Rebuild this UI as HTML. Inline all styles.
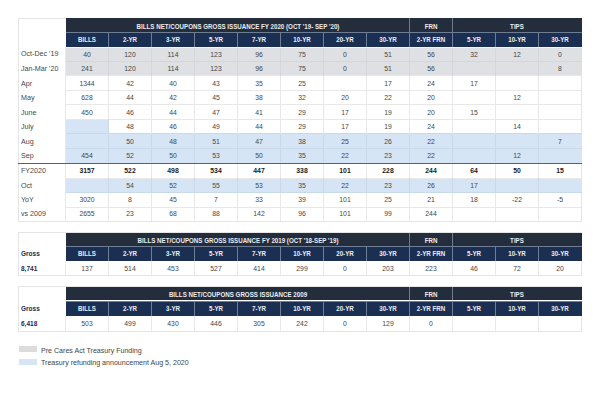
<!DOCTYPE html>
<html><head><meta charset="utf-8"><style>
html,body{margin:0;padding:0;background:#fff;width:600px;height:400px;overflow:hidden;}
body{position:relative;font-family:"Liberation Sans",sans-serif;}
.r{position:absolute;}
.t{position:absolute;white-space:nowrap;}
</style></head><body>
<div class="r" style="left:17.50px;top:17.50px;width:564.50px;height:204.40px;border:1px solid #e5e5e5;box-sizing:border-box;background:#fff"></div>
<div class="r" style="left:65.50px;top:18.00px;width:516.00px;height:13.50px;background:#232d3b;"></div>
<div class="r" style="left:65.50px;top:31.50px;width:516.00px;height:1.30px;background:#6e7d93;"></div>
<div class="r" style="left:65.50px;top:32.80px;width:516.00px;height:13.80px;background:#1b2f53;"></div>
<div class="r" style="left:408.90px;top:18.00px;width:1.20px;height:13.50px;background:#6e7d93;"></div>
<div class="r" style="left:451.90px;top:18.00px;width:1.20px;height:13.50px;background:#6e7d93;"></div>
<div class="r" style="left:107.90px;top:32.80px;width:1.20px;height:13.80px;background:#6e7d93;"></div>
<div class="r" style="left:150.90px;top:32.80px;width:1.20px;height:13.80px;background:#6e7d93;"></div>
<div class="r" style="left:193.90px;top:32.80px;width:1.20px;height:13.80px;background:#6e7d93;"></div>
<div class="r" style="left:236.90px;top:32.80px;width:1.20px;height:13.80px;background:#6e7d93;"></div>
<div class="r" style="left:279.90px;top:32.80px;width:1.20px;height:13.80px;background:#6e7d93;"></div>
<div class="r" style="left:322.90px;top:32.80px;width:1.20px;height:13.80px;background:#6e7d93;"></div>
<div class="r" style="left:365.90px;top:32.80px;width:1.20px;height:13.80px;background:#6e7d93;"></div>
<div class="r" style="left:408.90px;top:32.80px;width:1.20px;height:13.80px;background:#6e7d93;"></div>
<div class="r" style="left:451.90px;top:32.80px;width:1.20px;height:13.80px;background:#6e7d93;"></div>
<div class="r" style="left:494.90px;top:32.80px;width:1.20px;height:13.80px;background:#6e7d93;"></div>
<div class="r" style="left:537.90px;top:32.80px;width:1.20px;height:13.80px;background:#6e7d93;"></div>
<div class="r" style="left:17.50px;top:232.00px;width:564.50px;height:43.80px;border:1px solid #e5e5e5;box-sizing:border-box;background:#fff"></div>
<div class="r" style="left:108.00px;top:260.70px;width:1.00px;height:14.60px;background:#e8e8e8;"></div>
<div class="r" style="left:151.00px;top:260.70px;width:1.00px;height:14.60px;background:#e8e8e8;"></div>
<div class="r" style="left:194.00px;top:260.70px;width:1.00px;height:14.60px;background:#e8e8e8;"></div>
<div class="r" style="left:237.00px;top:260.70px;width:1.00px;height:14.60px;background:#e8e8e8;"></div>
<div class="r" style="left:280.00px;top:260.70px;width:1.00px;height:14.60px;background:#e8e8e8;"></div>
<div class="r" style="left:323.00px;top:260.70px;width:1.00px;height:14.60px;background:#e8e8e8;"></div>
<div class="r" style="left:366.00px;top:260.70px;width:1.00px;height:14.60px;background:#e8e8e8;"></div>
<div class="r" style="left:409.00px;top:260.70px;width:1.00px;height:14.60px;background:#e8e8e8;"></div>
<div class="r" style="left:452.00px;top:260.70px;width:1.00px;height:14.60px;background:#e8e8e8;"></div>
<div class="r" style="left:495.00px;top:260.70px;width:1.00px;height:14.60px;background:#e8e8e8;"></div>
<div class="r" style="left:538.00px;top:260.70px;width:1.00px;height:14.60px;background:#e8e8e8;"></div>
<div class="r" style="left:65.00px;top:260.70px;width:1.00px;height:14.60px;background:#e8e8e8;"></div>
<div class="r" style="left:65.50px;top:232.50px;width:516.00px;height:13.00px;background:#232d3b;"></div>
<div class="r" style="left:65.50px;top:245.50px;width:516.00px;height:1.50px;background:#6e7d93;"></div>
<div class="r" style="left:65.50px;top:247.00px;width:516.00px;height:13.70px;background:#1b2f53;"></div>
<div class="r" style="left:408.90px;top:232.50px;width:1.20px;height:13.00px;background:#6e7d93;"></div>
<div class="r" style="left:451.90px;top:232.50px;width:1.20px;height:13.00px;background:#6e7d93;"></div>
<div class="r" style="left:107.90px;top:247.00px;width:1.20px;height:13.70px;background:#6e7d93;"></div>
<div class="r" style="left:150.90px;top:247.00px;width:1.20px;height:13.70px;background:#6e7d93;"></div>
<div class="r" style="left:193.90px;top:247.00px;width:1.20px;height:13.70px;background:#6e7d93;"></div>
<div class="r" style="left:236.90px;top:247.00px;width:1.20px;height:13.70px;background:#6e7d93;"></div>
<div class="r" style="left:279.90px;top:247.00px;width:1.20px;height:13.70px;background:#6e7d93;"></div>
<div class="r" style="left:322.90px;top:247.00px;width:1.20px;height:13.70px;background:#6e7d93;"></div>
<div class="r" style="left:365.90px;top:247.00px;width:1.20px;height:13.70px;background:#6e7d93;"></div>
<div class="r" style="left:408.90px;top:247.00px;width:1.20px;height:13.70px;background:#6e7d93;"></div>
<div class="r" style="left:451.90px;top:247.00px;width:1.20px;height:13.70px;background:#6e7d93;"></div>
<div class="r" style="left:494.90px;top:247.00px;width:1.20px;height:13.70px;background:#6e7d93;"></div>
<div class="r" style="left:537.90px;top:247.00px;width:1.20px;height:13.70px;background:#6e7d93;"></div>
<div class="r" style="left:17.50px;top:286.30px;width:564.50px;height:45.50px;border:1px solid #e5e5e5;box-sizing:border-box;background:#fff"></div>
<div class="r" style="left:108.00px;top:316.00px;width:1.00px;height:15.30px;background:#e8e8e8;"></div>
<div class="r" style="left:151.00px;top:316.00px;width:1.00px;height:15.30px;background:#e8e8e8;"></div>
<div class="r" style="left:194.00px;top:316.00px;width:1.00px;height:15.30px;background:#e8e8e8;"></div>
<div class="r" style="left:237.00px;top:316.00px;width:1.00px;height:15.30px;background:#e8e8e8;"></div>
<div class="r" style="left:280.00px;top:316.00px;width:1.00px;height:15.30px;background:#e8e8e8;"></div>
<div class="r" style="left:323.00px;top:316.00px;width:1.00px;height:15.30px;background:#e8e8e8;"></div>
<div class="r" style="left:366.00px;top:316.00px;width:1.00px;height:15.30px;background:#e8e8e8;"></div>
<div class="r" style="left:409.00px;top:316.00px;width:1.00px;height:15.30px;background:#e8e8e8;"></div>
<div class="r" style="left:452.00px;top:316.00px;width:1.00px;height:15.30px;background:#e8e8e8;"></div>
<div class="r" style="left:495.00px;top:316.00px;width:1.00px;height:15.30px;background:#e8e8e8;"></div>
<div class="r" style="left:538.00px;top:316.00px;width:1.00px;height:15.30px;background:#e8e8e8;"></div>
<div class="r" style="left:65.00px;top:316.00px;width:1.00px;height:15.30px;background:#e8e8e8;"></div>
<div class="r" style="left:65.50px;top:286.80px;width:516.00px;height:13.70px;background:#232d3b;"></div>
<div class="r" style="left:65.50px;top:300.50px;width:516.00px;height:1.50px;background:#6e7d93;"></div>
<div class="r" style="left:65.50px;top:302.00px;width:516.00px;height:14.00px;background:#1b2f53;"></div>
<div class="r" style="left:408.90px;top:286.80px;width:1.20px;height:13.70px;background:#6e7d93;"></div>
<div class="r" style="left:451.90px;top:286.80px;width:1.20px;height:13.70px;background:#6e7d93;"></div>
<div class="r" style="left:107.90px;top:302.00px;width:1.20px;height:14.00px;background:#6e7d93;"></div>
<div class="r" style="left:150.90px;top:302.00px;width:1.20px;height:14.00px;background:#6e7d93;"></div>
<div class="r" style="left:193.90px;top:302.00px;width:1.20px;height:14.00px;background:#6e7d93;"></div>
<div class="r" style="left:236.90px;top:302.00px;width:1.20px;height:14.00px;background:#6e7d93;"></div>
<div class="r" style="left:279.90px;top:302.00px;width:1.20px;height:14.00px;background:#6e7d93;"></div>
<div class="r" style="left:322.90px;top:302.00px;width:1.20px;height:14.00px;background:#6e7d93;"></div>
<div class="r" style="left:365.90px;top:302.00px;width:1.20px;height:14.00px;background:#6e7d93;"></div>
<div class="r" style="left:408.90px;top:302.00px;width:1.20px;height:14.00px;background:#6e7d93;"></div>
<div class="r" style="left:451.90px;top:302.00px;width:1.20px;height:14.00px;background:#6e7d93;"></div>
<div class="r" style="left:494.90px;top:302.00px;width:1.20px;height:14.00px;background:#6e7d93;"></div>
<div class="r" style="left:537.90px;top:302.00px;width:1.20px;height:14.00px;background:#6e7d93;"></div>
<div class="r" style="left:18.70px;top:346.00px;width:18.30px;height:6.30px;background:#dcdcdc;"></div>
<div class="r" style="left:18.70px;top:359.30px;width:18.30px;height:6.00px;background:#d6e6f6;"></div>
<div class="r" style="left:65.50px;top:46.60px;width:516.00px;height:14.55px;background:#dee0e3;"></div>
<div class="r" style="left:65.50px;top:61.15px;width:516.00px;height:14.55px;background:#dee0e3;"></div>
<div class="r" style="left:65.50px;top:119.35px;width:43.00px;height:14.55px;background:#d5e5f5;"></div>
<div class="r" style="left:65.50px;top:133.90px;width:516.00px;height:14.55px;background:#d5e5f5;"></div>
<div class="r" style="left:65.50px;top:148.45px;width:516.00px;height:14.55px;background:#d5e5f5;"></div>
<div class="r" style="left:65.50px;top:178.00px;width:516.00px;height:14.60px;background:#d5e5f5;"></div>
<div class="r" style="left:65.50px;top:60.65px;width:516.00px;height:1.00px;background:#d3d6da;"></div>
<div class="r" style="left:108.00px;top:46.60px;width:1.00px;height:14.55px;background:#d3d6da;"></div>
<div class="r" style="left:151.00px;top:46.60px;width:1.00px;height:14.55px;background:#d3d6da;"></div>
<div class="r" style="left:194.00px;top:46.60px;width:1.00px;height:14.55px;background:#d3d6da;"></div>
<div class="r" style="left:237.00px;top:46.60px;width:1.00px;height:14.55px;background:#d3d6da;"></div>
<div class="r" style="left:280.00px;top:46.60px;width:1.00px;height:14.55px;background:#d3d6da;"></div>
<div class="r" style="left:323.00px;top:46.60px;width:1.00px;height:14.55px;background:#d3d6da;"></div>
<div class="r" style="left:366.00px;top:46.60px;width:1.00px;height:14.55px;background:#d3d6da;"></div>
<div class="r" style="left:409.00px;top:46.60px;width:1.00px;height:14.55px;background:#d3d6da;"></div>
<div class="r" style="left:452.00px;top:46.60px;width:1.00px;height:14.55px;background:#d3d6da;"></div>
<div class="r" style="left:495.00px;top:46.60px;width:1.00px;height:14.55px;background:#d3d6da;"></div>
<div class="r" style="left:538.00px;top:46.60px;width:1.00px;height:14.55px;background:#d3d6da;"></div>
<div class="r" style="left:65.50px;top:75.20px;width:516.00px;height:1.00px;background:#e8e8e8;"></div>
<div class="r" style="left:108.00px;top:61.15px;width:1.00px;height:14.55px;background:#d3d6da;"></div>
<div class="r" style="left:151.00px;top:61.15px;width:1.00px;height:14.55px;background:#d3d6da;"></div>
<div class="r" style="left:194.00px;top:61.15px;width:1.00px;height:14.55px;background:#d3d6da;"></div>
<div class="r" style="left:237.00px;top:61.15px;width:1.00px;height:14.55px;background:#d3d6da;"></div>
<div class="r" style="left:280.00px;top:61.15px;width:1.00px;height:14.55px;background:#d3d6da;"></div>
<div class="r" style="left:323.00px;top:61.15px;width:1.00px;height:14.55px;background:#d3d6da;"></div>
<div class="r" style="left:366.00px;top:61.15px;width:1.00px;height:14.55px;background:#d3d6da;"></div>
<div class="r" style="left:409.00px;top:61.15px;width:1.00px;height:14.55px;background:#d3d6da;"></div>
<div class="r" style="left:452.00px;top:61.15px;width:1.00px;height:14.55px;background:#d3d6da;"></div>
<div class="r" style="left:495.00px;top:61.15px;width:1.00px;height:14.55px;background:#d3d6da;"></div>
<div class="r" style="left:538.00px;top:61.15px;width:1.00px;height:14.55px;background:#d3d6da;"></div>
<div class="r" style="left:65.50px;top:89.75px;width:516.00px;height:1.00px;background:#e8e8e8;"></div>
<div class="r" style="left:108.00px;top:75.70px;width:1.00px;height:14.55px;background:#e8e8e8;"></div>
<div class="r" style="left:151.00px;top:75.70px;width:1.00px;height:14.55px;background:#e8e8e8;"></div>
<div class="r" style="left:194.00px;top:75.70px;width:1.00px;height:14.55px;background:#e8e8e8;"></div>
<div class="r" style="left:237.00px;top:75.70px;width:1.00px;height:14.55px;background:#e8e8e8;"></div>
<div class="r" style="left:280.00px;top:75.70px;width:1.00px;height:14.55px;background:#e8e8e8;"></div>
<div class="r" style="left:323.00px;top:75.70px;width:1.00px;height:14.55px;background:#e8e8e8;"></div>
<div class="r" style="left:366.00px;top:75.70px;width:1.00px;height:14.55px;background:#e8e8e8;"></div>
<div class="r" style="left:409.00px;top:75.70px;width:1.00px;height:14.55px;background:#e8e8e8;"></div>
<div class="r" style="left:452.00px;top:75.70px;width:1.00px;height:14.55px;background:#e8e8e8;"></div>
<div class="r" style="left:495.00px;top:75.70px;width:1.00px;height:14.55px;background:#e8e8e8;"></div>
<div class="r" style="left:538.00px;top:75.70px;width:1.00px;height:14.55px;background:#e8e8e8;"></div>
<div class="r" style="left:65.50px;top:104.30px;width:516.00px;height:1.00px;background:#e8e8e8;"></div>
<div class="r" style="left:108.00px;top:90.25px;width:1.00px;height:14.55px;background:#e8e8e8;"></div>
<div class="r" style="left:151.00px;top:90.25px;width:1.00px;height:14.55px;background:#e8e8e8;"></div>
<div class="r" style="left:194.00px;top:90.25px;width:1.00px;height:14.55px;background:#e8e8e8;"></div>
<div class="r" style="left:237.00px;top:90.25px;width:1.00px;height:14.55px;background:#e8e8e8;"></div>
<div class="r" style="left:280.00px;top:90.25px;width:1.00px;height:14.55px;background:#e8e8e8;"></div>
<div class="r" style="left:323.00px;top:90.25px;width:1.00px;height:14.55px;background:#e8e8e8;"></div>
<div class="r" style="left:366.00px;top:90.25px;width:1.00px;height:14.55px;background:#e8e8e8;"></div>
<div class="r" style="left:409.00px;top:90.25px;width:1.00px;height:14.55px;background:#e8e8e8;"></div>
<div class="r" style="left:452.00px;top:90.25px;width:1.00px;height:14.55px;background:#e8e8e8;"></div>
<div class="r" style="left:495.00px;top:90.25px;width:1.00px;height:14.55px;background:#e8e8e8;"></div>
<div class="r" style="left:538.00px;top:90.25px;width:1.00px;height:14.55px;background:#e8e8e8;"></div>
<div class="r" style="left:65.50px;top:118.85px;width:516.00px;height:1.00px;background:#e8e8e8;"></div>
<div class="r" style="left:108.00px;top:104.80px;width:1.00px;height:14.55px;background:#e8e8e8;"></div>
<div class="r" style="left:151.00px;top:104.80px;width:1.00px;height:14.55px;background:#e8e8e8;"></div>
<div class="r" style="left:194.00px;top:104.80px;width:1.00px;height:14.55px;background:#e8e8e8;"></div>
<div class="r" style="left:237.00px;top:104.80px;width:1.00px;height:14.55px;background:#e8e8e8;"></div>
<div class="r" style="left:280.00px;top:104.80px;width:1.00px;height:14.55px;background:#e8e8e8;"></div>
<div class="r" style="left:323.00px;top:104.80px;width:1.00px;height:14.55px;background:#e8e8e8;"></div>
<div class="r" style="left:366.00px;top:104.80px;width:1.00px;height:14.55px;background:#e8e8e8;"></div>
<div class="r" style="left:409.00px;top:104.80px;width:1.00px;height:14.55px;background:#e8e8e8;"></div>
<div class="r" style="left:452.00px;top:104.80px;width:1.00px;height:14.55px;background:#e8e8e8;"></div>
<div class="r" style="left:495.00px;top:104.80px;width:1.00px;height:14.55px;background:#e8e8e8;"></div>
<div class="r" style="left:538.00px;top:104.80px;width:1.00px;height:14.55px;background:#e8e8e8;"></div>
<div class="r" style="left:65.50px;top:133.40px;width:516.00px;height:1.00px;background:#c9d9ea;"></div>
<div class="r" style="left:108.00px;top:119.35px;width:1.00px;height:14.55px;background:#c9d9ea;"></div>
<div class="r" style="left:151.00px;top:119.35px;width:1.00px;height:14.55px;background:#e8e8e8;"></div>
<div class="r" style="left:194.00px;top:119.35px;width:1.00px;height:14.55px;background:#e8e8e8;"></div>
<div class="r" style="left:237.00px;top:119.35px;width:1.00px;height:14.55px;background:#e8e8e8;"></div>
<div class="r" style="left:280.00px;top:119.35px;width:1.00px;height:14.55px;background:#e8e8e8;"></div>
<div class="r" style="left:323.00px;top:119.35px;width:1.00px;height:14.55px;background:#e8e8e8;"></div>
<div class="r" style="left:366.00px;top:119.35px;width:1.00px;height:14.55px;background:#e8e8e8;"></div>
<div class="r" style="left:409.00px;top:119.35px;width:1.00px;height:14.55px;background:#e8e8e8;"></div>
<div class="r" style="left:452.00px;top:119.35px;width:1.00px;height:14.55px;background:#e8e8e8;"></div>
<div class="r" style="left:495.00px;top:119.35px;width:1.00px;height:14.55px;background:#e8e8e8;"></div>
<div class="r" style="left:538.00px;top:119.35px;width:1.00px;height:14.55px;background:#e8e8e8;"></div>
<div class="r" style="left:65.50px;top:147.95px;width:516.00px;height:1.00px;background:#c9d9ea;"></div>
<div class="r" style="left:108.00px;top:133.90px;width:1.00px;height:14.55px;background:#c9d9ea;"></div>
<div class="r" style="left:151.00px;top:133.90px;width:1.00px;height:14.55px;background:#c9d9ea;"></div>
<div class="r" style="left:194.00px;top:133.90px;width:1.00px;height:14.55px;background:#c9d9ea;"></div>
<div class="r" style="left:237.00px;top:133.90px;width:1.00px;height:14.55px;background:#c9d9ea;"></div>
<div class="r" style="left:280.00px;top:133.90px;width:1.00px;height:14.55px;background:#c9d9ea;"></div>
<div class="r" style="left:323.00px;top:133.90px;width:1.00px;height:14.55px;background:#c9d9ea;"></div>
<div class="r" style="left:366.00px;top:133.90px;width:1.00px;height:14.55px;background:#c9d9ea;"></div>
<div class="r" style="left:409.00px;top:133.90px;width:1.00px;height:14.55px;background:#c9d9ea;"></div>
<div class="r" style="left:452.00px;top:133.90px;width:1.00px;height:14.55px;background:#c9d9ea;"></div>
<div class="r" style="left:495.00px;top:133.90px;width:1.00px;height:14.55px;background:#c9d9ea;"></div>
<div class="r" style="left:538.00px;top:133.90px;width:1.00px;height:14.55px;background:#c9d9ea;"></div>
<div class="r" style="left:108.00px;top:148.45px;width:1.00px;height:14.55px;background:#c9d9ea;"></div>
<div class="r" style="left:151.00px;top:148.45px;width:1.00px;height:14.55px;background:#c9d9ea;"></div>
<div class="r" style="left:194.00px;top:148.45px;width:1.00px;height:14.55px;background:#c9d9ea;"></div>
<div class="r" style="left:237.00px;top:148.45px;width:1.00px;height:14.55px;background:#c9d9ea;"></div>
<div class="r" style="left:280.00px;top:148.45px;width:1.00px;height:14.55px;background:#c9d9ea;"></div>
<div class="r" style="left:323.00px;top:148.45px;width:1.00px;height:14.55px;background:#c9d9ea;"></div>
<div class="r" style="left:366.00px;top:148.45px;width:1.00px;height:14.55px;background:#c9d9ea;"></div>
<div class="r" style="left:409.00px;top:148.45px;width:1.00px;height:14.55px;background:#c9d9ea;"></div>
<div class="r" style="left:452.00px;top:148.45px;width:1.00px;height:14.55px;background:#c9d9ea;"></div>
<div class="r" style="left:495.00px;top:148.45px;width:1.00px;height:14.55px;background:#c9d9ea;"></div>
<div class="r" style="left:538.00px;top:148.45px;width:1.00px;height:14.55px;background:#c9d9ea;"></div>
<div class="r" style="left:65.50px;top:177.50px;width:516.00px;height:1.00px;background:#e8e8e8;"></div>
<div class="r" style="left:108.00px;top:163.00px;width:1.00px;height:15.00px;background:#e8e8e8;"></div>
<div class="r" style="left:151.00px;top:163.00px;width:1.00px;height:15.00px;background:#e8e8e8;"></div>
<div class="r" style="left:194.00px;top:163.00px;width:1.00px;height:15.00px;background:#e8e8e8;"></div>
<div class="r" style="left:237.00px;top:163.00px;width:1.00px;height:15.00px;background:#e8e8e8;"></div>
<div class="r" style="left:280.00px;top:163.00px;width:1.00px;height:15.00px;background:#e8e8e8;"></div>
<div class="r" style="left:323.00px;top:163.00px;width:1.00px;height:15.00px;background:#e8e8e8;"></div>
<div class="r" style="left:366.00px;top:163.00px;width:1.00px;height:15.00px;background:#e8e8e8;"></div>
<div class="r" style="left:409.00px;top:163.00px;width:1.00px;height:15.00px;background:#e8e8e8;"></div>
<div class="r" style="left:452.00px;top:163.00px;width:1.00px;height:15.00px;background:#e8e8e8;"></div>
<div class="r" style="left:495.00px;top:163.00px;width:1.00px;height:15.00px;background:#e8e8e8;"></div>
<div class="r" style="left:538.00px;top:163.00px;width:1.00px;height:15.00px;background:#e8e8e8;"></div>
<div class="r" style="left:65.50px;top:192.10px;width:516.00px;height:1.00px;background:#c9d9ea;"></div>
<div class="r" style="left:108.00px;top:178.00px;width:1.00px;height:14.60px;background:#c9d9ea;"></div>
<div class="r" style="left:151.00px;top:178.00px;width:1.00px;height:14.60px;background:#c9d9ea;"></div>
<div class="r" style="left:194.00px;top:178.00px;width:1.00px;height:14.60px;background:#c9d9ea;"></div>
<div class="r" style="left:237.00px;top:178.00px;width:1.00px;height:14.60px;background:#c9d9ea;"></div>
<div class="r" style="left:280.00px;top:178.00px;width:1.00px;height:14.60px;background:#c9d9ea;"></div>
<div class="r" style="left:323.00px;top:178.00px;width:1.00px;height:14.60px;background:#c9d9ea;"></div>
<div class="r" style="left:366.00px;top:178.00px;width:1.00px;height:14.60px;background:#c9d9ea;"></div>
<div class="r" style="left:409.00px;top:178.00px;width:1.00px;height:14.60px;background:#c9d9ea;"></div>
<div class="r" style="left:452.00px;top:178.00px;width:1.00px;height:14.60px;background:#c9d9ea;"></div>
<div class="r" style="left:495.00px;top:178.00px;width:1.00px;height:14.60px;background:#c9d9ea;"></div>
<div class="r" style="left:538.00px;top:178.00px;width:1.00px;height:14.60px;background:#c9d9ea;"></div>
<div class="r" style="left:65.50px;top:206.90px;width:516.00px;height:1.00px;background:#e8e8e8;"></div>
<div class="r" style="left:108.00px;top:192.60px;width:1.00px;height:14.80px;background:#e8e8e8;"></div>
<div class="r" style="left:151.00px;top:192.60px;width:1.00px;height:14.80px;background:#e8e8e8;"></div>
<div class="r" style="left:194.00px;top:192.60px;width:1.00px;height:14.80px;background:#e8e8e8;"></div>
<div class="r" style="left:237.00px;top:192.60px;width:1.00px;height:14.80px;background:#e8e8e8;"></div>
<div class="r" style="left:280.00px;top:192.60px;width:1.00px;height:14.80px;background:#e8e8e8;"></div>
<div class="r" style="left:323.00px;top:192.60px;width:1.00px;height:14.80px;background:#e8e8e8;"></div>
<div class="r" style="left:366.00px;top:192.60px;width:1.00px;height:14.80px;background:#e8e8e8;"></div>
<div class="r" style="left:409.00px;top:192.60px;width:1.00px;height:14.80px;background:#e8e8e8;"></div>
<div class="r" style="left:452.00px;top:192.60px;width:1.00px;height:14.80px;background:#e8e8e8;"></div>
<div class="r" style="left:495.00px;top:192.60px;width:1.00px;height:14.80px;background:#e8e8e8;"></div>
<div class="r" style="left:538.00px;top:192.60px;width:1.00px;height:14.80px;background:#e8e8e8;"></div>
<div class="r" style="left:108.00px;top:207.40px;width:1.00px;height:14.00px;background:#e8e8e8;"></div>
<div class="r" style="left:151.00px;top:207.40px;width:1.00px;height:14.00px;background:#e8e8e8;"></div>
<div class="r" style="left:194.00px;top:207.40px;width:1.00px;height:14.00px;background:#e8e8e8;"></div>
<div class="r" style="left:237.00px;top:207.40px;width:1.00px;height:14.00px;background:#e8e8e8;"></div>
<div class="r" style="left:280.00px;top:207.40px;width:1.00px;height:14.00px;background:#e8e8e8;"></div>
<div class="r" style="left:323.00px;top:207.40px;width:1.00px;height:14.00px;background:#e8e8e8;"></div>
<div class="r" style="left:366.00px;top:207.40px;width:1.00px;height:14.00px;background:#e8e8e8;"></div>
<div class="r" style="left:409.00px;top:207.40px;width:1.00px;height:14.00px;background:#e8e8e8;"></div>
<div class="r" style="left:452.00px;top:207.40px;width:1.00px;height:14.00px;background:#e8e8e8;"></div>
<div class="r" style="left:495.00px;top:207.40px;width:1.00px;height:14.00px;background:#e8e8e8;"></div>
<div class="r" style="left:538.00px;top:207.40px;width:1.00px;height:14.00px;background:#e8e8e8;"></div>
<div class="r" style="left:65.00px;top:46.60px;width:1.00px;height:174.80px;background:#e8e8e8;"></div>
<div class="r" style="left:18.00px;top:162.60px;width:563.50px;height:1.40px;background:#566073;"></div>
<div class="r" style="left:65.50px;top:46.60px;width:516.00px;height:1.10px;background:#f4f6f8;"></div>
<div class="t" style="left:21.00px;top:50.42px;width:300px;height:7.3px;line-height:7.3px;font-size:7.3px;font-weight:normal;color:#484848;text-align:left;transform:scaleX(0.975);transform-origin:0 50%">Oct-Dec '19</div>
<div class="t" style="left:-63.00px;top:50.51px;width:300px;height:7.2px;line-height:7.2px;font-size:7.2px;font-weight:normal;color:#454545;text-align:center;transform:scaleX(0.95);transform-origin:50% 50%">40</div>
<div class="t" style="left:-20.00px;top:50.51px;width:300px;height:7.2px;line-height:7.2px;font-size:7.2px;font-weight:normal;color:#454545;text-align:center;transform:scaleX(0.95);transform-origin:50% 50%">120</div>
<div class="t" style="left:23.00px;top:50.51px;width:300px;height:7.2px;line-height:7.2px;font-size:7.2px;font-weight:normal;color:#454545;text-align:center;transform:scaleX(0.95);transform-origin:50% 50%">114</div>
<div class="t" style="left:66.00px;top:50.51px;width:300px;height:7.2px;line-height:7.2px;font-size:7.2px;font-weight:normal;color:#454545;text-align:center;transform:scaleX(0.95);transform-origin:50% 50%">123</div>
<div class="t" style="left:109.00px;top:50.51px;width:300px;height:7.2px;line-height:7.2px;font-size:7.2px;font-weight:normal;color:#454545;text-align:center;transform:scaleX(0.95);transform-origin:50% 50%">96</div>
<div class="t" style="left:152.00px;top:50.51px;width:300px;height:7.2px;line-height:7.2px;font-size:7.2px;font-weight:normal;color:#454545;text-align:center;transform:scaleX(0.95);transform-origin:50% 50%">75</div>
<div class="t" style="left:195.00px;top:50.51px;width:300px;height:7.2px;line-height:7.2px;font-size:7.2px;font-weight:normal;color:#454545;text-align:center;transform:scaleX(0.95);transform-origin:50% 50%">0</div>
<div class="t" style="left:238.00px;top:50.51px;width:300px;height:7.2px;line-height:7.2px;font-size:7.2px;font-weight:normal;color:#454545;text-align:center;transform:scaleX(0.95);transform-origin:50% 50%">51</div>
<div class="t" style="left:281.00px;top:50.51px;width:300px;height:7.2px;line-height:7.2px;font-size:7.2px;font-weight:normal;color:#454545;text-align:center;transform:scaleX(0.95);transform-origin:50% 50%">56</div>
<div class="t" style="left:324.00px;top:50.51px;width:300px;height:7.2px;line-height:7.2px;font-size:7.2px;font-weight:normal;color:#454545;text-align:center;transform:scaleX(0.95);transform-origin:50% 50%">32</div>
<div class="t" style="left:367.00px;top:50.51px;width:300px;height:7.2px;line-height:7.2px;font-size:7.2px;font-weight:normal;color:#454545;text-align:center;transform:scaleX(0.95);transform-origin:50% 50%">12</div>
<div class="t" style="left:410.00px;top:50.51px;width:300px;height:7.2px;line-height:7.2px;font-size:7.2px;font-weight:normal;color:#454545;text-align:center;transform:scaleX(0.95);transform-origin:50% 50%">0</div>
<div class="t" style="left:21.00px;top:64.97px;width:300px;height:7.3px;line-height:7.3px;font-size:7.3px;font-weight:normal;color:#484848;text-align:left;transform:scaleX(0.975);transform-origin:0 50%">Jan-Mar '20</div>
<div class="t" style="left:-63.00px;top:65.06px;width:300px;height:7.2px;line-height:7.2px;font-size:7.2px;font-weight:normal;color:#454545;text-align:center;transform:scaleX(0.95);transform-origin:50% 50%">241</div>
<div class="t" style="left:-20.00px;top:65.06px;width:300px;height:7.2px;line-height:7.2px;font-size:7.2px;font-weight:normal;color:#454545;text-align:center;transform:scaleX(0.95);transform-origin:50% 50%">120</div>
<div class="t" style="left:23.00px;top:65.06px;width:300px;height:7.2px;line-height:7.2px;font-size:7.2px;font-weight:normal;color:#454545;text-align:center;transform:scaleX(0.95);transform-origin:50% 50%">114</div>
<div class="t" style="left:66.00px;top:65.06px;width:300px;height:7.2px;line-height:7.2px;font-size:7.2px;font-weight:normal;color:#454545;text-align:center;transform:scaleX(0.95);transform-origin:50% 50%">123</div>
<div class="t" style="left:109.00px;top:65.06px;width:300px;height:7.2px;line-height:7.2px;font-size:7.2px;font-weight:normal;color:#454545;text-align:center;transform:scaleX(0.95);transform-origin:50% 50%">96</div>
<div class="t" style="left:152.00px;top:65.06px;width:300px;height:7.2px;line-height:7.2px;font-size:7.2px;font-weight:normal;color:#454545;text-align:center;transform:scaleX(0.95);transform-origin:50% 50%">75</div>
<div class="t" style="left:195.00px;top:65.06px;width:300px;height:7.2px;line-height:7.2px;font-size:7.2px;font-weight:normal;color:#454545;text-align:center;transform:scaleX(0.95);transform-origin:50% 50%">0</div>
<div class="t" style="left:238.00px;top:65.06px;width:300px;height:7.2px;line-height:7.2px;font-size:7.2px;font-weight:normal;color:#454545;text-align:center;transform:scaleX(0.95);transform-origin:50% 50%">51</div>
<div class="t" style="left:281.00px;top:65.06px;width:300px;height:7.2px;line-height:7.2px;font-size:7.2px;font-weight:normal;color:#454545;text-align:center;transform:scaleX(0.95);transform-origin:50% 50%">56</div>
<div class="t" style="left:410.00px;top:65.06px;width:300px;height:7.2px;line-height:7.2px;font-size:7.2px;font-weight:normal;color:#454545;text-align:center;transform:scaleX(0.95);transform-origin:50% 50%">8</div>
<div class="t" style="left:21.00px;top:79.52px;width:300px;height:7.3px;line-height:7.3px;font-size:7.3px;font-weight:normal;color:#484848;text-align:left;transform:scaleX(0.975);transform-origin:0 50%">Apr</div>
<div class="t" style="left:-63.00px;top:79.61px;width:300px;height:7.2px;line-height:7.2px;font-size:7.2px;font-weight:normal;color:#454545;text-align:center;transform:scaleX(0.95);transform-origin:50% 50%">1344</div>
<div class="t" style="left:-20.00px;top:79.61px;width:300px;height:7.2px;line-height:7.2px;font-size:7.2px;font-weight:normal;color:#454545;text-align:center;transform:scaleX(0.95);transform-origin:50% 50%">42</div>
<div class="t" style="left:23.00px;top:79.61px;width:300px;height:7.2px;line-height:7.2px;font-size:7.2px;font-weight:normal;color:#454545;text-align:center;transform:scaleX(0.95);transform-origin:50% 50%">40</div>
<div class="t" style="left:66.00px;top:79.61px;width:300px;height:7.2px;line-height:7.2px;font-size:7.2px;font-weight:normal;color:#454545;text-align:center;transform:scaleX(0.95);transform-origin:50% 50%">43</div>
<div class="t" style="left:109.00px;top:79.61px;width:300px;height:7.2px;line-height:7.2px;font-size:7.2px;font-weight:normal;color:#454545;text-align:center;transform:scaleX(0.95);transform-origin:50% 50%">35</div>
<div class="t" style="left:152.00px;top:79.61px;width:300px;height:7.2px;line-height:7.2px;font-size:7.2px;font-weight:normal;color:#454545;text-align:center;transform:scaleX(0.95);transform-origin:50% 50%">25</div>
<div class="t" style="left:238.00px;top:79.61px;width:300px;height:7.2px;line-height:7.2px;font-size:7.2px;font-weight:normal;color:#454545;text-align:center;transform:scaleX(0.95);transform-origin:50% 50%">17</div>
<div class="t" style="left:281.00px;top:79.61px;width:300px;height:7.2px;line-height:7.2px;font-size:7.2px;font-weight:normal;color:#454545;text-align:center;transform:scaleX(0.95);transform-origin:50% 50%">24</div>
<div class="t" style="left:324.00px;top:79.61px;width:300px;height:7.2px;line-height:7.2px;font-size:7.2px;font-weight:normal;color:#454545;text-align:center;transform:scaleX(0.95);transform-origin:50% 50%">17</div>
<div class="t" style="left:21.00px;top:94.07px;width:300px;height:7.3px;line-height:7.3px;font-size:7.3px;font-weight:normal;color:#484848;text-align:left;transform:scaleX(0.975);transform-origin:0 50%">May</div>
<div class="t" style="left:-63.00px;top:94.16px;width:300px;height:7.2px;line-height:7.2px;font-size:7.2px;font-weight:normal;color:#454545;text-align:center;transform:scaleX(0.95);transform-origin:50% 50%">628</div>
<div class="t" style="left:-20.00px;top:94.16px;width:300px;height:7.2px;line-height:7.2px;font-size:7.2px;font-weight:normal;color:#454545;text-align:center;transform:scaleX(0.95);transform-origin:50% 50%">44</div>
<div class="t" style="left:23.00px;top:94.16px;width:300px;height:7.2px;line-height:7.2px;font-size:7.2px;font-weight:normal;color:#454545;text-align:center;transform:scaleX(0.95);transform-origin:50% 50%">42</div>
<div class="t" style="left:66.00px;top:94.16px;width:300px;height:7.2px;line-height:7.2px;font-size:7.2px;font-weight:normal;color:#454545;text-align:center;transform:scaleX(0.95);transform-origin:50% 50%">45</div>
<div class="t" style="left:109.00px;top:94.16px;width:300px;height:7.2px;line-height:7.2px;font-size:7.2px;font-weight:normal;color:#454545;text-align:center;transform:scaleX(0.95);transform-origin:50% 50%">38</div>
<div class="t" style="left:152.00px;top:94.16px;width:300px;height:7.2px;line-height:7.2px;font-size:7.2px;font-weight:normal;color:#454545;text-align:center;transform:scaleX(0.95);transform-origin:50% 50%">32</div>
<div class="t" style="left:195.00px;top:94.16px;width:300px;height:7.2px;line-height:7.2px;font-size:7.2px;font-weight:normal;color:#454545;text-align:center;transform:scaleX(0.95);transform-origin:50% 50%">20</div>
<div class="t" style="left:238.00px;top:94.16px;width:300px;height:7.2px;line-height:7.2px;font-size:7.2px;font-weight:normal;color:#454545;text-align:center;transform:scaleX(0.95);transform-origin:50% 50%">22</div>
<div class="t" style="left:281.00px;top:94.16px;width:300px;height:7.2px;line-height:7.2px;font-size:7.2px;font-weight:normal;color:#454545;text-align:center;transform:scaleX(0.95);transform-origin:50% 50%">20</div>
<div class="t" style="left:367.00px;top:94.16px;width:300px;height:7.2px;line-height:7.2px;font-size:7.2px;font-weight:normal;color:#454545;text-align:center;transform:scaleX(0.95);transform-origin:50% 50%">12</div>
<div class="t" style="left:21.00px;top:108.62px;width:300px;height:7.3px;line-height:7.3px;font-size:7.3px;font-weight:normal;color:#484848;text-align:left;transform:scaleX(0.975);transform-origin:0 50%">June</div>
<div class="t" style="left:-63.00px;top:108.71px;width:300px;height:7.2px;line-height:7.2px;font-size:7.2px;font-weight:normal;color:#454545;text-align:center;transform:scaleX(0.95);transform-origin:50% 50%">450</div>
<div class="t" style="left:-20.00px;top:108.71px;width:300px;height:7.2px;line-height:7.2px;font-size:7.2px;font-weight:normal;color:#454545;text-align:center;transform:scaleX(0.95);transform-origin:50% 50%">46</div>
<div class="t" style="left:23.00px;top:108.71px;width:300px;height:7.2px;line-height:7.2px;font-size:7.2px;font-weight:normal;color:#454545;text-align:center;transform:scaleX(0.95);transform-origin:50% 50%">44</div>
<div class="t" style="left:66.00px;top:108.71px;width:300px;height:7.2px;line-height:7.2px;font-size:7.2px;font-weight:normal;color:#454545;text-align:center;transform:scaleX(0.95);transform-origin:50% 50%">47</div>
<div class="t" style="left:109.00px;top:108.71px;width:300px;height:7.2px;line-height:7.2px;font-size:7.2px;font-weight:normal;color:#454545;text-align:center;transform:scaleX(0.95);transform-origin:50% 50%">41</div>
<div class="t" style="left:152.00px;top:108.71px;width:300px;height:7.2px;line-height:7.2px;font-size:7.2px;font-weight:normal;color:#454545;text-align:center;transform:scaleX(0.95);transform-origin:50% 50%">29</div>
<div class="t" style="left:195.00px;top:108.71px;width:300px;height:7.2px;line-height:7.2px;font-size:7.2px;font-weight:normal;color:#454545;text-align:center;transform:scaleX(0.95);transform-origin:50% 50%">17</div>
<div class="t" style="left:238.00px;top:108.71px;width:300px;height:7.2px;line-height:7.2px;font-size:7.2px;font-weight:normal;color:#454545;text-align:center;transform:scaleX(0.95);transform-origin:50% 50%">19</div>
<div class="t" style="left:281.00px;top:108.71px;width:300px;height:7.2px;line-height:7.2px;font-size:7.2px;font-weight:normal;color:#454545;text-align:center;transform:scaleX(0.95);transform-origin:50% 50%">20</div>
<div class="t" style="left:324.00px;top:108.71px;width:300px;height:7.2px;line-height:7.2px;font-size:7.2px;font-weight:normal;color:#454545;text-align:center;transform:scaleX(0.95);transform-origin:50% 50%">15</div>
<div class="t" style="left:21.00px;top:123.17px;width:300px;height:7.3px;line-height:7.3px;font-size:7.3px;font-weight:normal;color:#484848;text-align:left;transform:scaleX(0.975);transform-origin:0 50%">July</div>
<div class="t" style="left:-20.00px;top:123.26px;width:300px;height:7.2px;line-height:7.2px;font-size:7.2px;font-weight:normal;color:#454545;text-align:center;transform:scaleX(0.95);transform-origin:50% 50%">48</div>
<div class="t" style="left:23.00px;top:123.26px;width:300px;height:7.2px;line-height:7.2px;font-size:7.2px;font-weight:normal;color:#454545;text-align:center;transform:scaleX(0.95);transform-origin:50% 50%">46</div>
<div class="t" style="left:66.00px;top:123.26px;width:300px;height:7.2px;line-height:7.2px;font-size:7.2px;font-weight:normal;color:#454545;text-align:center;transform:scaleX(0.95);transform-origin:50% 50%">49</div>
<div class="t" style="left:109.00px;top:123.26px;width:300px;height:7.2px;line-height:7.2px;font-size:7.2px;font-weight:normal;color:#454545;text-align:center;transform:scaleX(0.95);transform-origin:50% 50%">44</div>
<div class="t" style="left:152.00px;top:123.26px;width:300px;height:7.2px;line-height:7.2px;font-size:7.2px;font-weight:normal;color:#454545;text-align:center;transform:scaleX(0.95);transform-origin:50% 50%">29</div>
<div class="t" style="left:195.00px;top:123.26px;width:300px;height:7.2px;line-height:7.2px;font-size:7.2px;font-weight:normal;color:#454545;text-align:center;transform:scaleX(0.95);transform-origin:50% 50%">17</div>
<div class="t" style="left:238.00px;top:123.26px;width:300px;height:7.2px;line-height:7.2px;font-size:7.2px;font-weight:normal;color:#454545;text-align:center;transform:scaleX(0.95);transform-origin:50% 50%">19</div>
<div class="t" style="left:281.00px;top:123.26px;width:300px;height:7.2px;line-height:7.2px;font-size:7.2px;font-weight:normal;color:#454545;text-align:center;transform:scaleX(0.95);transform-origin:50% 50%">24</div>
<div class="t" style="left:367.00px;top:123.26px;width:300px;height:7.2px;line-height:7.2px;font-size:7.2px;font-weight:normal;color:#454545;text-align:center;transform:scaleX(0.95);transform-origin:50% 50%">14</div>
<div class="t" style="left:21.00px;top:137.72px;width:300px;height:7.3px;line-height:7.3px;font-size:7.3px;font-weight:normal;color:#484848;text-align:left;transform:scaleX(0.975);transform-origin:0 50%">Aug</div>
<div class="t" style="left:-20.00px;top:137.81px;width:300px;height:7.2px;line-height:7.2px;font-size:7.2px;font-weight:normal;color:#454545;text-align:center;transform:scaleX(0.95);transform-origin:50% 50%">50</div>
<div class="t" style="left:23.00px;top:137.81px;width:300px;height:7.2px;line-height:7.2px;font-size:7.2px;font-weight:normal;color:#454545;text-align:center;transform:scaleX(0.95);transform-origin:50% 50%">48</div>
<div class="t" style="left:66.00px;top:137.81px;width:300px;height:7.2px;line-height:7.2px;font-size:7.2px;font-weight:normal;color:#454545;text-align:center;transform:scaleX(0.95);transform-origin:50% 50%">51</div>
<div class="t" style="left:109.00px;top:137.81px;width:300px;height:7.2px;line-height:7.2px;font-size:7.2px;font-weight:normal;color:#454545;text-align:center;transform:scaleX(0.95);transform-origin:50% 50%">47</div>
<div class="t" style="left:152.00px;top:137.81px;width:300px;height:7.2px;line-height:7.2px;font-size:7.2px;font-weight:normal;color:#454545;text-align:center;transform:scaleX(0.95);transform-origin:50% 50%">38</div>
<div class="t" style="left:195.00px;top:137.81px;width:300px;height:7.2px;line-height:7.2px;font-size:7.2px;font-weight:normal;color:#454545;text-align:center;transform:scaleX(0.95);transform-origin:50% 50%">25</div>
<div class="t" style="left:238.00px;top:137.81px;width:300px;height:7.2px;line-height:7.2px;font-size:7.2px;font-weight:normal;color:#454545;text-align:center;transform:scaleX(0.95);transform-origin:50% 50%">26</div>
<div class="t" style="left:281.00px;top:137.81px;width:300px;height:7.2px;line-height:7.2px;font-size:7.2px;font-weight:normal;color:#454545;text-align:center;transform:scaleX(0.95);transform-origin:50% 50%">22</div>
<div class="t" style="left:410.00px;top:137.81px;width:300px;height:7.2px;line-height:7.2px;font-size:7.2px;font-weight:normal;color:#454545;text-align:center;transform:scaleX(0.95);transform-origin:50% 50%">7</div>
<div class="t" style="left:21.00px;top:152.27px;width:300px;height:7.3px;line-height:7.3px;font-size:7.3px;font-weight:normal;color:#484848;text-align:left;transform:scaleX(0.975);transform-origin:0 50%">Sep</div>
<div class="t" style="left:-63.00px;top:152.36px;width:300px;height:7.2px;line-height:7.2px;font-size:7.2px;font-weight:normal;color:#454545;text-align:center;transform:scaleX(0.95);transform-origin:50% 50%">454</div>
<div class="t" style="left:-20.00px;top:152.36px;width:300px;height:7.2px;line-height:7.2px;font-size:7.2px;font-weight:normal;color:#454545;text-align:center;transform:scaleX(0.95);transform-origin:50% 50%">52</div>
<div class="t" style="left:23.00px;top:152.36px;width:300px;height:7.2px;line-height:7.2px;font-size:7.2px;font-weight:normal;color:#454545;text-align:center;transform:scaleX(0.95);transform-origin:50% 50%">50</div>
<div class="t" style="left:66.00px;top:152.36px;width:300px;height:7.2px;line-height:7.2px;font-size:7.2px;font-weight:normal;color:#454545;text-align:center;transform:scaleX(0.95);transform-origin:50% 50%">53</div>
<div class="t" style="left:109.00px;top:152.36px;width:300px;height:7.2px;line-height:7.2px;font-size:7.2px;font-weight:normal;color:#454545;text-align:center;transform:scaleX(0.95);transform-origin:50% 50%">50</div>
<div class="t" style="left:152.00px;top:152.36px;width:300px;height:7.2px;line-height:7.2px;font-size:7.2px;font-weight:normal;color:#454545;text-align:center;transform:scaleX(0.95);transform-origin:50% 50%">35</div>
<div class="t" style="left:195.00px;top:152.36px;width:300px;height:7.2px;line-height:7.2px;font-size:7.2px;font-weight:normal;color:#454545;text-align:center;transform:scaleX(0.95);transform-origin:50% 50%">22</div>
<div class="t" style="left:238.00px;top:152.36px;width:300px;height:7.2px;line-height:7.2px;font-size:7.2px;font-weight:normal;color:#454545;text-align:center;transform:scaleX(0.95);transform-origin:50% 50%">23</div>
<div class="t" style="left:281.00px;top:152.36px;width:300px;height:7.2px;line-height:7.2px;font-size:7.2px;font-weight:normal;color:#454545;text-align:center;transform:scaleX(0.95);transform-origin:50% 50%">22</div>
<div class="t" style="left:367.00px;top:152.36px;width:300px;height:7.2px;line-height:7.2px;font-size:7.2px;font-weight:normal;color:#454545;text-align:center;transform:scaleX(0.95);transform-origin:50% 50%">12</div>
<div class="t" style="left:21.00px;top:166.82px;width:300px;height:7.3px;line-height:7.3px;font-size:7.3px;font-weight:normal;color:#484848;text-align:left;transform:scaleX(0.975);transform-origin:0 50%">FY2020</div>
<div class="t" style="left:-63.00px;top:166.91px;width:300px;height:7.2px;line-height:7.2px;font-size:7.2px;font-weight:bold;color:#1a1a1a;text-align:center;transform:scaleX(0.95);transform-origin:50% 50%">3157</div>
<div class="t" style="left:-20.00px;top:166.91px;width:300px;height:7.2px;line-height:7.2px;font-size:7.2px;font-weight:bold;color:#1a1a1a;text-align:center;transform:scaleX(0.95);transform-origin:50% 50%">522</div>
<div class="t" style="left:23.00px;top:166.91px;width:300px;height:7.2px;line-height:7.2px;font-size:7.2px;font-weight:bold;color:#1a1a1a;text-align:center;transform:scaleX(0.95);transform-origin:50% 50%">498</div>
<div class="t" style="left:66.00px;top:166.91px;width:300px;height:7.2px;line-height:7.2px;font-size:7.2px;font-weight:bold;color:#1a1a1a;text-align:center;transform:scaleX(0.95);transform-origin:50% 50%">534</div>
<div class="t" style="left:109.00px;top:166.91px;width:300px;height:7.2px;line-height:7.2px;font-size:7.2px;font-weight:bold;color:#1a1a1a;text-align:center;transform:scaleX(0.95);transform-origin:50% 50%">447</div>
<div class="t" style="left:152.00px;top:166.91px;width:300px;height:7.2px;line-height:7.2px;font-size:7.2px;font-weight:bold;color:#1a1a1a;text-align:center;transform:scaleX(0.95);transform-origin:50% 50%">338</div>
<div class="t" style="left:195.00px;top:166.91px;width:300px;height:7.2px;line-height:7.2px;font-size:7.2px;font-weight:bold;color:#1a1a1a;text-align:center;transform:scaleX(0.95);transform-origin:50% 50%">101</div>
<div class="t" style="left:238.00px;top:166.91px;width:300px;height:7.2px;line-height:7.2px;font-size:7.2px;font-weight:bold;color:#1a1a1a;text-align:center;transform:scaleX(0.95);transform-origin:50% 50%">228</div>
<div class="t" style="left:281.00px;top:166.91px;width:300px;height:7.2px;line-height:7.2px;font-size:7.2px;font-weight:bold;color:#1a1a1a;text-align:center;transform:scaleX(0.95);transform-origin:50% 50%">244</div>
<div class="t" style="left:324.00px;top:166.91px;width:300px;height:7.2px;line-height:7.2px;font-size:7.2px;font-weight:bold;color:#1a1a1a;text-align:center;transform:scaleX(0.95);transform-origin:50% 50%">64</div>
<div class="t" style="left:367.00px;top:166.91px;width:300px;height:7.2px;line-height:7.2px;font-size:7.2px;font-weight:bold;color:#1a1a1a;text-align:center;transform:scaleX(0.95);transform-origin:50% 50%">50</div>
<div class="t" style="left:410.00px;top:166.91px;width:300px;height:7.2px;line-height:7.2px;font-size:7.2px;font-weight:bold;color:#1a1a1a;text-align:center;transform:scaleX(0.95);transform-origin:50% 50%">15</div>
<div class="t" style="left:21.00px;top:181.52px;width:300px;height:7.3px;line-height:7.3px;font-size:7.3px;font-weight:normal;color:#484848;text-align:left;transform:scaleX(0.975);transform-origin:0 50%">Oct</div>
<div class="t" style="left:-20.00px;top:181.61px;width:300px;height:7.2px;line-height:7.2px;font-size:7.2px;font-weight:normal;color:#454545;text-align:center;transform:scaleX(0.95);transform-origin:50% 50%">54</div>
<div class="t" style="left:23.00px;top:181.61px;width:300px;height:7.2px;line-height:7.2px;font-size:7.2px;font-weight:normal;color:#454545;text-align:center;transform:scaleX(0.95);transform-origin:50% 50%">52</div>
<div class="t" style="left:66.00px;top:181.61px;width:300px;height:7.2px;line-height:7.2px;font-size:7.2px;font-weight:normal;color:#454545;text-align:center;transform:scaleX(0.95);transform-origin:50% 50%">55</div>
<div class="t" style="left:109.00px;top:181.61px;width:300px;height:7.2px;line-height:7.2px;font-size:7.2px;font-weight:normal;color:#454545;text-align:center;transform:scaleX(0.95);transform-origin:50% 50%">53</div>
<div class="t" style="left:152.00px;top:181.61px;width:300px;height:7.2px;line-height:7.2px;font-size:7.2px;font-weight:normal;color:#454545;text-align:center;transform:scaleX(0.95);transform-origin:50% 50%">35</div>
<div class="t" style="left:195.00px;top:181.61px;width:300px;height:7.2px;line-height:7.2px;font-size:7.2px;font-weight:normal;color:#454545;text-align:center;transform:scaleX(0.95);transform-origin:50% 50%">22</div>
<div class="t" style="left:238.00px;top:181.61px;width:300px;height:7.2px;line-height:7.2px;font-size:7.2px;font-weight:normal;color:#454545;text-align:center;transform:scaleX(0.95);transform-origin:50% 50%">23</div>
<div class="t" style="left:281.00px;top:181.61px;width:300px;height:7.2px;line-height:7.2px;font-size:7.2px;font-weight:normal;color:#454545;text-align:center;transform:scaleX(0.95);transform-origin:50% 50%">26</div>
<div class="t" style="left:324.00px;top:181.61px;width:300px;height:7.2px;line-height:7.2px;font-size:7.2px;font-weight:normal;color:#454545;text-align:center;transform:scaleX(0.95);transform-origin:50% 50%">17</div>
<div class="t" style="left:21.00px;top:195.82px;width:300px;height:7.3px;line-height:7.3px;font-size:7.3px;font-weight:normal;color:#484848;text-align:left;transform:scaleX(0.975);transform-origin:0 50%">YoY</div>
<div class="t" style="left:-63.00px;top:195.91px;width:300px;height:7.2px;line-height:7.2px;font-size:7.2px;font-weight:normal;color:#454545;text-align:center;transform:scaleX(0.95);transform-origin:50% 50%">3020</div>
<div class="t" style="left:-20.00px;top:195.91px;width:300px;height:7.2px;line-height:7.2px;font-size:7.2px;font-weight:normal;color:#454545;text-align:center;transform:scaleX(0.95);transform-origin:50% 50%">8</div>
<div class="t" style="left:23.00px;top:195.91px;width:300px;height:7.2px;line-height:7.2px;font-size:7.2px;font-weight:normal;color:#454545;text-align:center;transform:scaleX(0.95);transform-origin:50% 50%">45</div>
<div class="t" style="left:66.00px;top:195.91px;width:300px;height:7.2px;line-height:7.2px;font-size:7.2px;font-weight:normal;color:#454545;text-align:center;transform:scaleX(0.95);transform-origin:50% 50%">7</div>
<div class="t" style="left:109.00px;top:195.91px;width:300px;height:7.2px;line-height:7.2px;font-size:7.2px;font-weight:normal;color:#454545;text-align:center;transform:scaleX(0.95);transform-origin:50% 50%">33</div>
<div class="t" style="left:152.00px;top:195.91px;width:300px;height:7.2px;line-height:7.2px;font-size:7.2px;font-weight:normal;color:#454545;text-align:center;transform:scaleX(0.95);transform-origin:50% 50%">39</div>
<div class="t" style="left:195.00px;top:195.91px;width:300px;height:7.2px;line-height:7.2px;font-size:7.2px;font-weight:normal;color:#454545;text-align:center;transform:scaleX(0.95);transform-origin:50% 50%">101</div>
<div class="t" style="left:238.00px;top:195.91px;width:300px;height:7.2px;line-height:7.2px;font-size:7.2px;font-weight:normal;color:#454545;text-align:center;transform:scaleX(0.95);transform-origin:50% 50%">25</div>
<div class="t" style="left:281.00px;top:195.91px;width:300px;height:7.2px;line-height:7.2px;font-size:7.2px;font-weight:normal;color:#454545;text-align:center;transform:scaleX(0.95);transform-origin:50% 50%">21</div>
<div class="t" style="left:324.00px;top:195.91px;width:300px;height:7.2px;line-height:7.2px;font-size:7.2px;font-weight:normal;color:#454545;text-align:center;transform:scaleX(0.95);transform-origin:50% 50%">18</div>
<div class="t" style="left:367.00px;top:195.91px;width:300px;height:7.2px;line-height:7.2px;font-size:7.2px;font-weight:normal;color:#454545;text-align:center;transform:scaleX(0.95);transform-origin:50% 50%">-22</div>
<div class="t" style="left:410.00px;top:195.91px;width:300px;height:7.2px;line-height:7.2px;font-size:7.2px;font-weight:normal;color:#454545;text-align:center;transform:scaleX(0.95);transform-origin:50% 50%">-5</div>
<div class="t" style="left:21.00px;top:210.22px;width:300px;height:7.3px;line-height:7.3px;font-size:7.3px;font-weight:normal;color:#484848;text-align:left;transform:scaleX(0.975);transform-origin:0 50%">vs 2009</div>
<div class="t" style="left:-63.00px;top:210.31px;width:300px;height:7.2px;line-height:7.2px;font-size:7.2px;font-weight:normal;color:#454545;text-align:center;transform:scaleX(0.95);transform-origin:50% 50%">2655</div>
<div class="t" style="left:-20.00px;top:210.31px;width:300px;height:7.2px;line-height:7.2px;font-size:7.2px;font-weight:normal;color:#454545;text-align:center;transform:scaleX(0.95);transform-origin:50% 50%">23</div>
<div class="t" style="left:23.00px;top:210.31px;width:300px;height:7.2px;line-height:7.2px;font-size:7.2px;font-weight:normal;color:#454545;text-align:center;transform:scaleX(0.95);transform-origin:50% 50%">68</div>
<div class="t" style="left:66.00px;top:210.31px;width:300px;height:7.2px;line-height:7.2px;font-size:7.2px;font-weight:normal;color:#454545;text-align:center;transform:scaleX(0.95);transform-origin:50% 50%">88</div>
<div class="t" style="left:109.00px;top:210.31px;width:300px;height:7.2px;line-height:7.2px;font-size:7.2px;font-weight:normal;color:#454545;text-align:center;transform:scaleX(0.95);transform-origin:50% 50%">142</div>
<div class="t" style="left:152.00px;top:210.31px;width:300px;height:7.2px;line-height:7.2px;font-size:7.2px;font-weight:normal;color:#454545;text-align:center;transform:scaleX(0.95);transform-origin:50% 50%">96</div>
<div class="t" style="left:195.00px;top:210.31px;width:300px;height:7.2px;line-height:7.2px;font-size:7.2px;font-weight:normal;color:#454545;text-align:center;transform:scaleX(0.95);transform-origin:50% 50%">101</div>
<div class="t" style="left:238.00px;top:210.31px;width:300px;height:7.2px;line-height:7.2px;font-size:7.2px;font-weight:normal;color:#454545;text-align:center;transform:scaleX(0.95);transform-origin:50% 50%">99</div>
<div class="t" style="left:281.00px;top:210.31px;width:300px;height:7.2px;line-height:7.2px;font-size:7.2px;font-weight:normal;color:#454545;text-align:center;transform:scaleX(0.95);transform-origin:50% 50%">244</div>
<div class="t" style="left:87.50px;top:23.63px;width:300px;height:6.7px;line-height:6.7px;font-size:6.7px;font-weight:bold;color:#eceef2;text-align:center;transform:scaleX(0.925);transform-origin:50% 50%">BILLS NET/COUPONS GROSS ISSUANCE FY 2020 (OCT '19- SEP '20)</div>
<div class="t" style="left:281.00px;top:23.63px;width:300px;height:6.7px;line-height:6.7px;font-size:6.7px;font-weight:bold;color:#eceef2;text-align:center;transform:scaleX(0.925);transform-origin:50% 50%">FRN</div>
<div class="t" style="left:367.00px;top:23.63px;width:300px;height:6.7px;line-height:6.7px;font-size:6.7px;font-weight:bold;color:#eceef2;text-align:center;transform:scaleX(0.925);transform-origin:50% 50%">TIPS</div>
<div class="t" style="left:-63.00px;top:35.51px;width:300px;height:7.2px;line-height:7.2px;font-size:7.2px;font-weight:bold;color:#eceef2;text-align:center;transform:scaleX(0.86);transform-origin:50% 50%">BILLS</div>
<div class="t" style="left:-20.00px;top:35.51px;width:300px;height:7.2px;line-height:7.2px;font-size:7.2px;font-weight:bold;color:#eceef2;text-align:center;transform:scaleX(0.86);transform-origin:50% 50%">2-YR</div>
<div class="t" style="left:23.00px;top:35.51px;width:300px;height:7.2px;line-height:7.2px;font-size:7.2px;font-weight:bold;color:#eceef2;text-align:center;transform:scaleX(0.86);transform-origin:50% 50%">3-YR</div>
<div class="t" style="left:66.00px;top:35.51px;width:300px;height:7.2px;line-height:7.2px;font-size:7.2px;font-weight:bold;color:#eceef2;text-align:center;transform:scaleX(0.86);transform-origin:50% 50%">5-YR</div>
<div class="t" style="left:109.00px;top:35.51px;width:300px;height:7.2px;line-height:7.2px;font-size:7.2px;font-weight:bold;color:#eceef2;text-align:center;transform:scaleX(0.86);transform-origin:50% 50%">7-YR</div>
<div class="t" style="left:152.00px;top:35.51px;width:300px;height:7.2px;line-height:7.2px;font-size:7.2px;font-weight:bold;color:#eceef2;text-align:center;transform:scaleX(0.86);transform-origin:50% 50%">10-YR</div>
<div class="t" style="left:195.00px;top:35.51px;width:300px;height:7.2px;line-height:7.2px;font-size:7.2px;font-weight:bold;color:#eceef2;text-align:center;transform:scaleX(0.86);transform-origin:50% 50%">20-YR</div>
<div class="t" style="left:238.00px;top:35.51px;width:300px;height:7.2px;line-height:7.2px;font-size:7.2px;font-weight:bold;color:#eceef2;text-align:center;transform:scaleX(0.86);transform-origin:50% 50%">30-YR</div>
<div class="t" style="left:281.00px;top:35.51px;width:300px;height:7.2px;line-height:7.2px;font-size:7.2px;font-weight:bold;color:#eceef2;text-align:center;transform:scaleX(0.86);transform-origin:50% 50%">2-YR FRN</div>
<div class="t" style="left:324.00px;top:35.51px;width:300px;height:7.2px;line-height:7.2px;font-size:7.2px;font-weight:bold;color:#eceef2;text-align:center;transform:scaleX(0.86);transform-origin:50% 50%">5-YR</div>
<div class="t" style="left:367.00px;top:35.51px;width:300px;height:7.2px;line-height:7.2px;font-size:7.2px;font-weight:bold;color:#eceef2;text-align:center;transform:scaleX(0.86);transform-origin:50% 50%">10-YR</div>
<div class="t" style="left:410.00px;top:35.51px;width:300px;height:7.2px;line-height:7.2px;font-size:7.2px;font-weight:bold;color:#eceef2;text-align:center;transform:scaleX(0.86);transform-origin:50% 50%">30-YR</div>
<div class="t" style="left:87.50px;top:238.13px;width:300px;height:6.7px;line-height:6.7px;font-size:6.7px;font-weight:bold;color:#eceef2;text-align:center;transform:scaleX(0.925);transform-origin:50% 50%">BILLS NET/COUPONS GROSS ISSUANCE FY 2019 (OCT '18-SEP '19)</div>
<div class="t" style="left:281.00px;top:238.13px;width:300px;height:6.7px;line-height:6.7px;font-size:6.7px;font-weight:bold;color:#eceef2;text-align:center;transform:scaleX(0.925);transform-origin:50% 50%">FRN</div>
<div class="t" style="left:367.00px;top:238.13px;width:300px;height:6.7px;line-height:6.7px;font-size:6.7px;font-weight:bold;color:#eceef2;text-align:center;transform:scaleX(0.925);transform-origin:50% 50%">TIPS</div>
<div class="t" style="left:-63.00px;top:249.91px;width:300px;height:7.2px;line-height:7.2px;font-size:7.2px;font-weight:bold;color:#eceef2;text-align:center;transform:scaleX(0.86);transform-origin:50% 50%">BILLS</div>
<div class="t" style="left:-20.00px;top:249.91px;width:300px;height:7.2px;line-height:7.2px;font-size:7.2px;font-weight:bold;color:#eceef2;text-align:center;transform:scaleX(0.86);transform-origin:50% 50%">2-YR</div>
<div class="t" style="left:23.00px;top:249.91px;width:300px;height:7.2px;line-height:7.2px;font-size:7.2px;font-weight:bold;color:#eceef2;text-align:center;transform:scaleX(0.86);transform-origin:50% 50%">3-YR</div>
<div class="t" style="left:66.00px;top:249.91px;width:300px;height:7.2px;line-height:7.2px;font-size:7.2px;font-weight:bold;color:#eceef2;text-align:center;transform:scaleX(0.86);transform-origin:50% 50%">5-YR</div>
<div class="t" style="left:109.00px;top:249.91px;width:300px;height:7.2px;line-height:7.2px;font-size:7.2px;font-weight:bold;color:#eceef2;text-align:center;transform:scaleX(0.86);transform-origin:50% 50%">7-YR</div>
<div class="t" style="left:152.00px;top:249.91px;width:300px;height:7.2px;line-height:7.2px;font-size:7.2px;font-weight:bold;color:#eceef2;text-align:center;transform:scaleX(0.86);transform-origin:50% 50%">10-YR</div>
<div class="t" style="left:195.00px;top:249.91px;width:300px;height:7.2px;line-height:7.2px;font-size:7.2px;font-weight:bold;color:#eceef2;text-align:center;transform:scaleX(0.86);transform-origin:50% 50%">20-YR</div>
<div class="t" style="left:238.00px;top:249.91px;width:300px;height:7.2px;line-height:7.2px;font-size:7.2px;font-weight:bold;color:#eceef2;text-align:center;transform:scaleX(0.86);transform-origin:50% 50%">30-YR</div>
<div class="t" style="left:281.00px;top:249.91px;width:300px;height:7.2px;line-height:7.2px;font-size:7.2px;font-weight:bold;color:#eceef2;text-align:center;transform:scaleX(0.86);transform-origin:50% 50%">2-YR FRN</div>
<div class="t" style="left:324.00px;top:249.91px;width:300px;height:7.2px;line-height:7.2px;font-size:7.2px;font-weight:bold;color:#eceef2;text-align:center;transform:scaleX(0.86);transform-origin:50% 50%">5-YR</div>
<div class="t" style="left:367.00px;top:249.91px;width:300px;height:7.2px;line-height:7.2px;font-size:7.2px;font-weight:bold;color:#eceef2;text-align:center;transform:scaleX(0.86);transform-origin:50% 50%">10-YR</div>
<div class="t" style="left:410.00px;top:249.91px;width:300px;height:7.2px;line-height:7.2px;font-size:7.2px;font-weight:bold;color:#eceef2;text-align:center;transform:scaleX(0.86);transform-origin:50% 50%">30-YR</div>
<div class="t" style="left:20.80px;top:249.82px;width:300px;height:7.3px;line-height:7.3px;font-size:7.3px;font-weight:bold;color:#1c2a48;text-align:left;transform:scaleX(0.89);transform-origin:0 50%">Gross</div>
<div class="t" style="left:20.80px;top:264.52px;width:300px;height:7.3px;line-height:7.3px;font-size:7.3px;font-weight:bold;color:#1c2a48;text-align:left;transform:scaleX(0.89);transform-origin:0 50%">8,741</div>
<div class="t" style="left:-63.00px;top:264.61px;width:300px;height:7.2px;line-height:7.2px;font-size:7.2px;font-weight:normal;color:#454545;text-align:center;transform:scaleX(0.95);transform-origin:50% 50%">137</div>
<div class="t" style="left:-20.00px;top:264.61px;width:300px;height:7.2px;line-height:7.2px;font-size:7.2px;font-weight:normal;color:#454545;text-align:center;transform:scaleX(0.95);transform-origin:50% 50%">514</div>
<div class="t" style="left:23.00px;top:264.61px;width:300px;height:7.2px;line-height:7.2px;font-size:7.2px;font-weight:normal;color:#454545;text-align:center;transform:scaleX(0.95);transform-origin:50% 50%">453</div>
<div class="t" style="left:66.00px;top:264.61px;width:300px;height:7.2px;line-height:7.2px;font-size:7.2px;font-weight:normal;color:#454545;text-align:center;transform:scaleX(0.95);transform-origin:50% 50%">527</div>
<div class="t" style="left:109.00px;top:264.61px;width:300px;height:7.2px;line-height:7.2px;font-size:7.2px;font-weight:normal;color:#454545;text-align:center;transform:scaleX(0.95);transform-origin:50% 50%">414</div>
<div class="t" style="left:152.00px;top:264.61px;width:300px;height:7.2px;line-height:7.2px;font-size:7.2px;font-weight:normal;color:#454545;text-align:center;transform:scaleX(0.95);transform-origin:50% 50%">299</div>
<div class="t" style="left:195.00px;top:264.61px;width:300px;height:7.2px;line-height:7.2px;font-size:7.2px;font-weight:normal;color:#454545;text-align:center;transform:scaleX(0.95);transform-origin:50% 50%">0</div>
<div class="t" style="left:238.00px;top:264.61px;width:300px;height:7.2px;line-height:7.2px;font-size:7.2px;font-weight:normal;color:#454545;text-align:center;transform:scaleX(0.95);transform-origin:50% 50%">203</div>
<div class="t" style="left:281.00px;top:264.61px;width:300px;height:7.2px;line-height:7.2px;font-size:7.2px;font-weight:normal;color:#454545;text-align:center;transform:scaleX(0.95);transform-origin:50% 50%">223</div>
<div class="t" style="left:324.00px;top:264.61px;width:300px;height:7.2px;line-height:7.2px;font-size:7.2px;font-weight:normal;color:#454545;text-align:center;transform:scaleX(0.95);transform-origin:50% 50%">46</div>
<div class="t" style="left:367.00px;top:264.61px;width:300px;height:7.2px;line-height:7.2px;font-size:7.2px;font-weight:normal;color:#454545;text-align:center;transform:scaleX(0.95);transform-origin:50% 50%">72</div>
<div class="t" style="left:410.00px;top:264.61px;width:300px;height:7.2px;line-height:7.2px;font-size:7.2px;font-weight:normal;color:#454545;text-align:center;transform:scaleX(0.95);transform-origin:50% 50%">20</div>
<div class="t" style="left:87.50px;top:292.43px;width:300px;height:6.7px;line-height:6.7px;font-size:6.7px;font-weight:bold;color:#eceef2;text-align:center;transform:scaleX(0.925);transform-origin:50% 50%">BILLS NET/COUPONS GROSS ISSUANCE 2009</div>
<div class="t" style="left:281.00px;top:292.43px;width:300px;height:6.7px;line-height:6.7px;font-size:6.7px;font-weight:bold;color:#eceef2;text-align:center;transform:scaleX(0.925);transform-origin:50% 50%">FRN</div>
<div class="t" style="left:367.00px;top:292.43px;width:300px;height:6.7px;line-height:6.7px;font-size:6.7px;font-weight:bold;color:#eceef2;text-align:center;transform:scaleX(0.925);transform-origin:50% 50%">TIPS</div>
<div class="t" style="left:-63.00px;top:304.91px;width:300px;height:7.2px;line-height:7.2px;font-size:7.2px;font-weight:bold;color:#eceef2;text-align:center;transform:scaleX(0.86);transform-origin:50% 50%">BILLS</div>
<div class="t" style="left:-20.00px;top:304.91px;width:300px;height:7.2px;line-height:7.2px;font-size:7.2px;font-weight:bold;color:#eceef2;text-align:center;transform:scaleX(0.86);transform-origin:50% 50%">2-YR</div>
<div class="t" style="left:23.00px;top:304.91px;width:300px;height:7.2px;line-height:7.2px;font-size:7.2px;font-weight:bold;color:#eceef2;text-align:center;transform:scaleX(0.86);transform-origin:50% 50%">3-YR</div>
<div class="t" style="left:66.00px;top:304.91px;width:300px;height:7.2px;line-height:7.2px;font-size:7.2px;font-weight:bold;color:#eceef2;text-align:center;transform:scaleX(0.86);transform-origin:50% 50%">5-YR</div>
<div class="t" style="left:109.00px;top:304.91px;width:300px;height:7.2px;line-height:7.2px;font-size:7.2px;font-weight:bold;color:#eceef2;text-align:center;transform:scaleX(0.86);transform-origin:50% 50%">7-YR</div>
<div class="t" style="left:152.00px;top:304.91px;width:300px;height:7.2px;line-height:7.2px;font-size:7.2px;font-weight:bold;color:#eceef2;text-align:center;transform:scaleX(0.86);transform-origin:50% 50%">10-YR</div>
<div class="t" style="left:195.00px;top:304.91px;width:300px;height:7.2px;line-height:7.2px;font-size:7.2px;font-weight:bold;color:#eceef2;text-align:center;transform:scaleX(0.86);transform-origin:50% 50%">20-YR</div>
<div class="t" style="left:238.00px;top:304.91px;width:300px;height:7.2px;line-height:7.2px;font-size:7.2px;font-weight:bold;color:#eceef2;text-align:center;transform:scaleX(0.86);transform-origin:50% 50%">30-YR</div>
<div class="t" style="left:281.00px;top:304.91px;width:300px;height:7.2px;line-height:7.2px;font-size:7.2px;font-weight:bold;color:#eceef2;text-align:center;transform:scaleX(0.86);transform-origin:50% 50%">2-YR FRN</div>
<div class="t" style="left:324.00px;top:304.91px;width:300px;height:7.2px;line-height:7.2px;font-size:7.2px;font-weight:bold;color:#eceef2;text-align:center;transform:scaleX(0.86);transform-origin:50% 50%">5-YR</div>
<div class="t" style="left:367.00px;top:304.91px;width:300px;height:7.2px;line-height:7.2px;font-size:7.2px;font-weight:bold;color:#eceef2;text-align:center;transform:scaleX(0.86);transform-origin:50% 50%">10-YR</div>
<div class="t" style="left:410.00px;top:304.91px;width:300px;height:7.2px;line-height:7.2px;font-size:7.2px;font-weight:bold;color:#eceef2;text-align:center;transform:scaleX(0.86);transform-origin:50% 50%">30-YR</div>
<div class="t" style="left:20.80px;top:304.82px;width:300px;height:7.3px;line-height:7.3px;font-size:7.3px;font-weight:bold;color:#1c2a48;text-align:left;transform:scaleX(0.89);transform-origin:0 50%">Gross</div>
<div class="t" style="left:20.80px;top:319.82px;width:300px;height:7.3px;line-height:7.3px;font-size:7.3px;font-weight:bold;color:#1c2a48;text-align:left;transform:scaleX(0.89);transform-origin:0 50%">6,418</div>
<div class="t" style="left:-63.00px;top:319.91px;width:300px;height:7.2px;line-height:7.2px;font-size:7.2px;font-weight:normal;color:#454545;text-align:center;transform:scaleX(0.95);transform-origin:50% 50%">503</div>
<div class="t" style="left:-20.00px;top:319.91px;width:300px;height:7.2px;line-height:7.2px;font-size:7.2px;font-weight:normal;color:#454545;text-align:center;transform:scaleX(0.95);transform-origin:50% 50%">499</div>
<div class="t" style="left:23.00px;top:319.91px;width:300px;height:7.2px;line-height:7.2px;font-size:7.2px;font-weight:normal;color:#454545;text-align:center;transform:scaleX(0.95);transform-origin:50% 50%">430</div>
<div class="t" style="left:66.00px;top:319.91px;width:300px;height:7.2px;line-height:7.2px;font-size:7.2px;font-weight:normal;color:#454545;text-align:center;transform:scaleX(0.95);transform-origin:50% 50%">446</div>
<div class="t" style="left:109.00px;top:319.91px;width:300px;height:7.2px;line-height:7.2px;font-size:7.2px;font-weight:normal;color:#454545;text-align:center;transform:scaleX(0.95);transform-origin:50% 50%">305</div>
<div class="t" style="left:152.00px;top:319.91px;width:300px;height:7.2px;line-height:7.2px;font-size:7.2px;font-weight:normal;color:#454545;text-align:center;transform:scaleX(0.95);transform-origin:50% 50%">242</div>
<div class="t" style="left:195.00px;top:319.91px;width:300px;height:7.2px;line-height:7.2px;font-size:7.2px;font-weight:normal;color:#454545;text-align:center;transform:scaleX(0.95);transform-origin:50% 50%">0</div>
<div class="t" style="left:238.00px;top:319.91px;width:300px;height:7.2px;line-height:7.2px;font-size:7.2px;font-weight:normal;color:#454545;text-align:center;transform:scaleX(0.95);transform-origin:50% 50%">129</div>
<div class="t" style="left:281.00px;top:319.91px;width:300px;height:7.2px;line-height:7.2px;font-size:7.2px;font-weight:normal;color:#454545;text-align:center;transform:scaleX(0.95);transform-origin:50% 50%">0</div>
<div class="t" style="left:41.00px;top:346.61px;width:300px;height:7.2px;line-height:7.2px;font-size:7.2px;font-weight:normal;color:#444;text-align:left;transform:scaleX(0.985);transform-origin:0 50%">Pre Cares Act Treasury Funding</div>
<div class="t" style="left:41.00px;top:358.61px;width:300px;height:7.2px;line-height:7.2px;font-size:7.2px;font-weight:normal;color:#444;text-align:left;transform:scaleX(0.985);transform-origin:0 50%">Treasury refunding announcement Aug 5, 2020</div>
</body></html>
